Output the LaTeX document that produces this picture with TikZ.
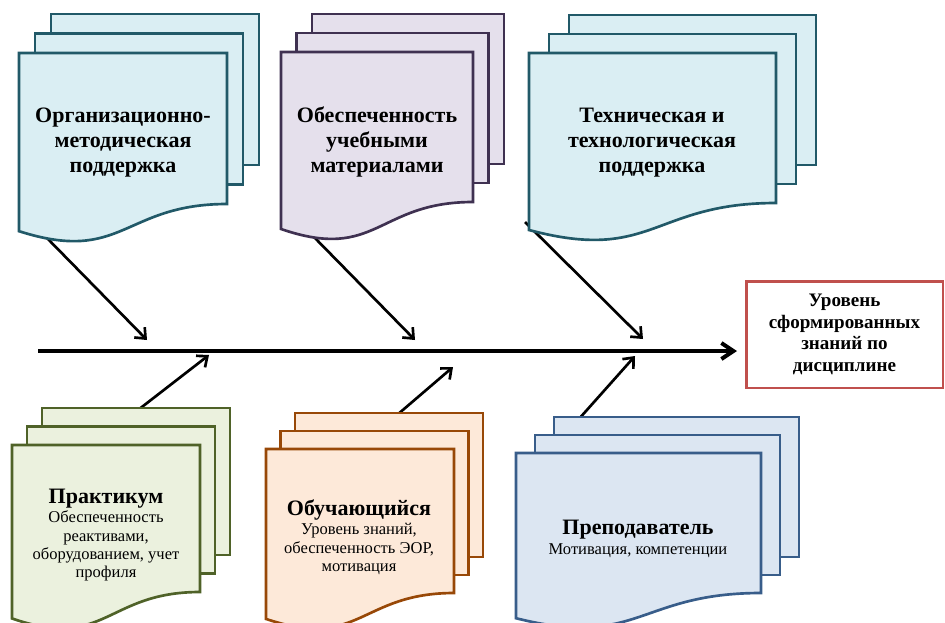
\documentclass[tikz,border=0pt]{standalone}
\usepackage{fontspec}
\setmainfont{Liberation Serif}
\usetikzlibrary{arrows.meta}
\definecolor{tealF}{HTML}{DAEEF3}
\definecolor{tealD}{HTML}{215968}
\definecolor{purpF}{HTML}{E5E0EC}
\definecolor{purpD}{HTML}{3F3151}
\definecolor{grnF}{HTML}{EBF1DE}
\definecolor{grnD}{HTML}{4F6228}
\definecolor{orgF}{HTML}{FDE9D9}
\definecolor{orgD}{HTML}{984807}
\definecolor{bluF}{HTML}{DCE6F2}
\definecolor{bluD}{HTML}{385D8A}
\definecolor{redD}{HTML}{C0504D}
% #1 x, #2 y (front top-left), #3 width, #4 right-edge height, #5 dx, #6 dy, #7 style
\newcommand\mdoc[7]{%
  \draw[#7] (#1+2*#5,#2-2*#6) rectangle ++(#3,#4);
  \draw[#7] (#1+#5,#2-#6) rectangle ++(#3,#4);
  \draw[#7] (#1,#2) -- (#1+#3,#2) -- (#1+#3,#2+#4)
     .. controls (#1+0.5*#3,#2+#4) and (#1+0.5*#3,#2+1.4*#4) .. (#1,#2+1.18*#4) -- cycle;
}
\newcommand\btitle[1]{{\fontsize{16.5}{19}\selectfont\bfseries #1}}
\tikzset{
  docline/.style={line width=2pt, line join=miter},
  tealdoc/.style={docline, draw=tealD, fill=tealF},
  purpdoc/.style={docline, draw=purpD, fill=purpF},
  grndoc/.style={docline, draw=grnD, fill=grnF},
  orgdoc/.style={docline, draw=orgD, fill=orgF},
  bludoc/.style={docline, draw=bluD, fill=bluF},
  toplabel/.style={align=center, font=\fontsize{16.5}{18.75}\selectfont\bfseries, inner sep=0pt},
  botlabel/.style={align=center, font=\fontsize{12.4}{13.7}\selectfont, inner sep=0pt},
  spine/.style={line width=3pt, -{Straight Barb[length=9pt,width=12pt,line width=3pt]}},
  branch/.style={line width=2pt, -{Straight Barb[length=6.5pt,width=11pt,line width=2pt]}},
  resultbox/.style={draw=redD, line width=2pt, fill=white, align=center,
    minimum width=147.5pt, minimum height=80pt,
    font=\fontsize{14.3}{16.3}\selectfont\bfseries}
}
\begin{document}
\begin{tikzpicture}[x=0.75pt,y=-0.75pt]
\useasboundingbox (0,0) rectangle (945,622);
% endpoints of connectors
\coordinate (s0) at (38,351);
\coordinate (s1) at (737,351);
\coordinate (a1s) at (45,236);
\coordinate (a1e) at (147,340);
\coordinate (a2s) at (312,235);
\coordinate (a2e) at (415,340);
\coordinate (a3s) at (525,222);
\coordinate (a3e) at (643,339);
\coordinate (b1s) at (138,410);
\coordinate (b1e) at (209,355);
\coordinate (b2s) at (397,415);
\coordinate (b2e) at (453,367);
\coordinate (b3s) at (578,420);
\coordinate (b3e) at (635,356);
% connectors
\draw[spine] (s0) -- (s1);
\draw[branch] (a1s) -- (a1e);
\draw[branch] (a2s) -- (a2e);
\draw[branch] (a3s) -- (a3e);
\draw[branch] (b1s) -- (b1e);
\draw[branch] (b2s) -- (b2e);
\draw[branch] (b3s) -- (b3e);
% document stacks
\mdoc{19}{53}{208}{151}{16}{19.5}{tealdoc}
\mdoc{281}{52}{192}{150}{15.5}{19}{purpdoc}
\mdoc{529}{53}{247}{150}{20}{19}{tealdoc}
\mdoc{12}{445}{188}{147}{15}{18.5}{grndoc}
\mdoc{266}{449}{188}{144}{14.5}{18}{orgdoc}
\mdoc{516}{453}{245}{140}{19}{18}{bludoc}
% labels
\node[toplabel] (org) at (123,143) {Организационно-\\методическая\\поддержка};
\node[toplabel] (mat) at (377,142) {Обеспеченность\\учебными\\материалами};
\node[toplabel] (tech) at (652,143) {Техническая и\\технологическая\\поддержка};
\node[botlabel] (prak) at (106,535) {\btitle{Практикум}\\[1pt]Обеспеченность\\реактивами,\\оборудованием, учет\\профиля};
\node[botlabel] (stud) at (359,537) {\btitle{Обучающийся}\\[1pt]Уровень знаний,\\обеспеченность ЭОР,\\мотивация};
\node[botlabel] (teach) at (638,539) {\btitle{Преподаватель}\\[1pt]Мотивация, компетенции};
\node[resultbox] (res) at (844.5,334.5) {Уровень\\сформированных\\знаний по\\дисциплине};
\end{tikzpicture}
\end{document}
